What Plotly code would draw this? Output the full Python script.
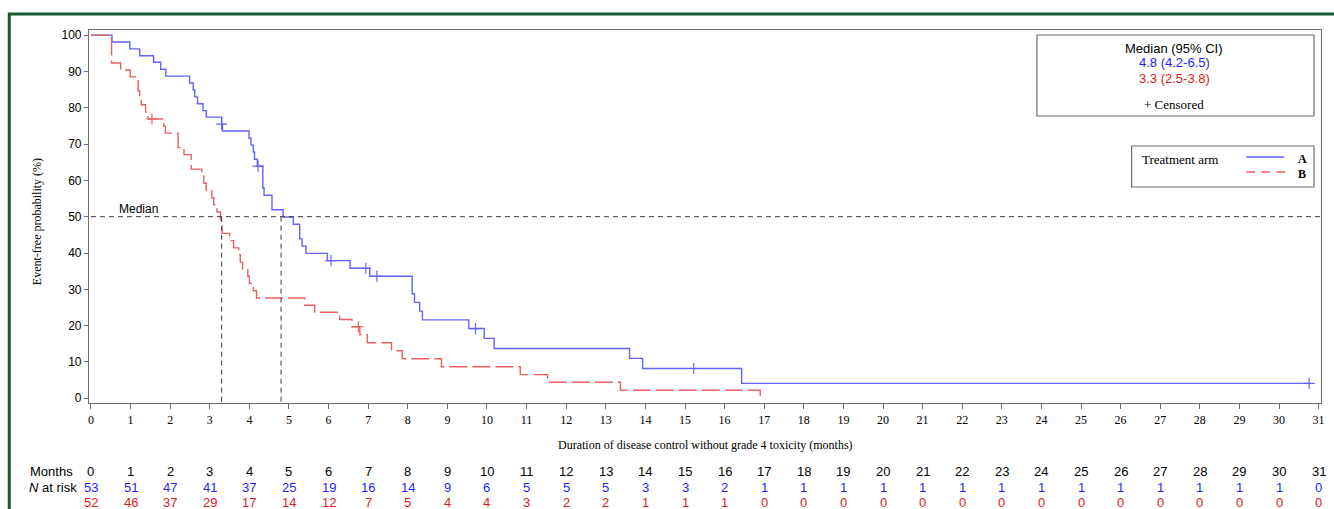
import plotly.graph_objects as go

# ---------------- data ----------------
months = list(range(32))
risk_A = [53, 51, 47, 41, 37, 25, 19, 16, 14, 9, 6, 5, 5, 5, 3, 3, 2,
          1, 1, 1, 1, 1, 1, 1, 1, 1, 1, 1, 1, 1, 1, 0]
risk_B = [52, 46, 37, 29, 17, 14, 12, 7, 5, 4, 4, 3, 2, 2, 1, 1, 1,
          0, 0, 0, 0, 0, 0, 0, 0, 0, 0, 0, 0, 0, 0, 0]

# Kaplan-Meier step points (time in months, event-free probability %)
A_time = [0, 0.53, 0.98, 1.23, 1.58, 1.76, 1.89, 2.49, 2.58, 2.62, 2.69, 2.83, 2.91,
          3.30, 3.32, 3.99, 4.04, 4.10, 4.13, 4.20, 4.34, 4.37, 4.57, 4.85, 5.11,
          5.27, 5.33, 5.43, 5.97, 6.54, 7.04, 8.11, 8.17, 8.30, 8.37, 9.54, 9.93,
          10.18, 13.60, 13.93, 16.43, 30.76]
A_surv = [100, 98.1, 96.2, 94.3, 92.5, 90.6, 88.7, 86.8, 84.9, 83.0, 81.1, 79.2, 77.4,
          75.5, 73.6, 71.6, 69.7, 67.8, 65.8, 63.9, 57.9, 55.9, 51.9, 49.9, 47.9,
          43.9, 41.9, 39.9, 37.9, 35.8, 33.6, 28.8, 26.4, 24.0, 21.6, 19.2, 16.5,
          13.7, 11.0, 8.2, 4.1, 4.1]
A_cens_t = [3.30, 4.22, 6.06, 6.94, 7.22, 9.71, 15.22, 30.76]
A_cens_s = [75.5, 63.9, 37.9, 35.8, 33.6, 19.2, 8.2, 4.1]

B_time = [0, 0.52, 0.75, 0.99, 1.19, 1.23, 1.27, 1.38, 1.44, 1.84, 1.88, 2.20, 2.35,
          2.53, 2.80, 2.85, 2.91, 3.05, 3.10, 3.18, 3.27, 3.29, 3.31, 3.50, 3.60,
          3.73, 3.77, 3.83, 3.96, 4.00, 4.10, 4.18, 5.40, 5.65, 6.28, 6.59, 6.79,
          6.98, 7.59, 7.86, 8.85, 10.84, 11.53, 13.37, 16.90]
B_surv = [100, 92.3, 90.4, 88.5, 84.6, 82.7, 80.8, 78.8, 76.9, 74.9, 73.0, 69.0, 67.1,
          63.1, 61.2, 59.2, 57.2, 55.2, 53.3, 51.3, 49.3, 47.4, 45.4, 43.4, 41.4,
          39.5, 37.5, 35.5, 33.6, 31.6, 29.6, 27.6, 25.6, 23.7, 21.7, 19.7, 17.5,
          15.3, 13.1, 10.9, 8.7, 6.5, 4.4, 2.2, 0]
B_cens_t = [1.54, 6.75]
B_cens_s = [76.9, 19.7]

median_A = 4.8
median_B = 3.3
median_text = ["Median (95% CI)", "4.8 (4.2-6.5)", "3.3 (2.5-3.8)", "+ Censored"]
arms = ["A", "B"]

# ---------------- styling ----------------
BLUE_LINE = "rgb(98,98,255)"
RED_LINE = "rgb(232,96,96)"
BLUE_TXT = "rgb(30,30,255)"
RED_TXT = "rgb(225,25,25)"
AX = "rgb(110,110,110)"
SERIF = "Liberation Serif"
SANS = "Liberation Sans"

W, H = 1334, 509
L, R, T, B = 89, 9, 30, 106
PW, PH = W - L - R, H - T - B


def px(p):  # pixel x -> paper
    return (p - L) / PW


def py(p):  # pixel y -> paper
    return (H - B - p) / PH


def note(text, x, y, xref="paper", xanchor="center", size=13, family=SANS,
         color="black", **kw):
    return dict(text=text, xref=xref, yref="paper", x=x, y=y, showarrow=False,
                xanchor=xanchor, yanchor="middle",
                font=dict(family=family, size=size, color=color), **kw)


fig = go.Figure()
fig.add_trace(go.Scatter(x=A_time, y=A_surv, mode="lines", line_shape="hv",
                         line=dict(color=BLUE_LINE, width=1.4), showlegend=False))
fig.add_trace(go.Scatter(x=B_time, y=B_surv, mode="lines", line_shape="hv",
                         line=dict(color=RED_LINE, width=1.4, dash="18px,5px"),
                         showlegend=False))
fig.add_trace(go.Scatter(x=A_cens_t, y=A_cens_s, mode="markers", showlegend=False,
                         marker=dict(symbol="cross-thin", size=8,
                                     line=dict(color=BLUE_LINE, width=1.2))))
fig.add_trace(go.Scatter(x=B_cens_t, y=B_cens_s, mode="markers", showlegend=False,
                         marker=dict(symbol="cross-thin", size=8,
                                     line=dict(color=RED_LINE, width=1.2))))

shapes = []
dash_med = "5px,4px"
shapes.append(dict(type="line", xref="x", yref="y", x0=0, x1=31.06, y0=50, y1=50,
                   line=dict(color="rgb(60,60,60)", width=1, dash=dash_med)))
for m in (median_B, median_A):
    shapes.append(dict(type="line", xref="x", yref="y", x0=m, x1=m, y0=50, y1=-1.3,
                       line=dict(color="rgb(60,60,60)", width=1, dash=dash_med)))
# median box
shapes.append(dict(type="rect", xref="paper", yref="paper",
                   x0=px(1040), x1=px(1318), y0=py(116), y1=py(35),
                   line=dict(color=AX, width=1.2)))
# treatment arm box
shapes.append(dict(type="rect", xref="paper", yref="paper",
                   x0=px(1135), x1=px(1318), y0=py(187), y1=py(146),
                   line=dict(color=AX, width=1.2)))
shapes.append(dict(type="line", xref="paper", yref="paper",
                   x0=px(1250), x1=px(1288), y0=py(157), y1=py(157),
                   line=dict(color=BLUE_LINE, width=1.4)))
shapes.append(dict(type="line", xref="paper", yref="paper",
                   x0=px(1250), x1=px(1290), y0=py(172), y1=py(172),
                   line=dict(color=RED_LINE, width=1.4, dash="9px,6px")))
# green outer frame
shapes.append(dict(type="rect", xref="paper", yref="paper", layer="above",
                   x0=px(9), x1=px(1350), y0=py(525), y1=py(14),
                   line=dict(color="rgb(22,88,48)", width=3)))

ann = []
ann.append(dict(text="Median", xref="x", yref="y", x=1.21, y=52.0, showarrow=False,
                xanchor="center", yanchor="middle",
                font=dict(family=SANS, size=12, color="black")))
med_colors = ["black", BLUE_TXT, RED_TXT, "black"]
med_y = [48, 63, 78, 104]
for t, c, yy in zip(median_text, med_colors, med_y):
    fam = SERIF if t.startswith("+") else SANS
    ann.append(note(t, px(1178), py(yy), family=fam, color=c))
ann.append(note("Treatment arm", px(1143), py(159), xanchor="left", family=SERIF))
for a, yy in zip(arms, [159, 174]):
    ann.append(note("<b>%s</b>" % a, px(1306), py(yy), family=SERIF, size=12))
ann.append(note("Duration of disease control without grade 4 toxicity (months)",
                0.5, py(445), family=SERIF, size=12))
ann.append(note("Event-free probability (%)", px(37), py(222), family=SERIF, size=12,
                textangle=-90))
# at-risk table
ann.append(note("Months", px(75), py(471), xanchor="right"))
ann.append(note("<i>N</i> at risk", px(79), py(487), xanchor="right"))
for m, a, b in zip(months, risk_A, risk_B):
    ann.append(note(str(m), m, py(471), xref="x"))
    ann.append(note(str(a), m, py(487), xref="x", color=BLUE_TXT))
    ann.append(note(str(b), m, py(502), xref="x", color=RED_TXT))

fig.update_layout(
    width=W, height=H,
    margin=dict(l=L, r=R, t=T, b=B),
    paper_bgcolor="white", plot_bgcolor="white",
    shapes=shapes, annotations=ann, showlegend=False,
    xaxis=dict(range=[-0.05, 31.06], tickmode="array", tickvals=months,
               ticks="outside", ticklen=5, tickcolor=AX, showgrid=False, zeroline=False,
               showline=True, linecolor=AX, linewidth=1.2, mirror=True,
               tickfont=dict(family=SERIF, size=12, color="black")),
    yaxis=dict(range=[-1.3, 101.4], tickmode="array", tickvals=list(range(0, 101, 10)),
               ticks="outside", ticklen=4, tickcolor=AX, showgrid=False, zeroline=False,
               showline=True, linecolor=AX, linewidth=1.2, mirror=True,
               tickfont=dict(family=SANS, size=12, color="black")),
)

fig.write_html("out.html", config={"displayModeBar": False},
               post_script="document.body.style.margin='0px';"
                           "document.body.style.overflow='hidden';")
